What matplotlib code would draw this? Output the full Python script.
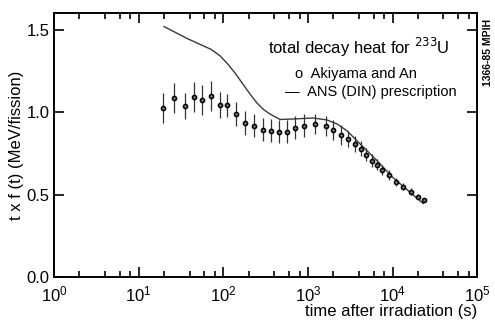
import matplotlib
matplotlib.use('Agg')
import matplotlib.pyplot as plt
import numpy as np
from matplotlib.ticker import FixedLocator, NullFormatter

plt.rcParams['font.family'] = ['Liberation Sans Narrow', 'Liberation Sans', 'DejaVu Sans']

# Akiyama and An measurements
t_meas = [19.4, 26.2, 35.3, 45.2, 56.1, 71.7, 91.6, 111, 142, 181, 231, 295, 367, 457,
          568, 706, 902, 1217, 1641, 1986, 2468, 2986, 3613, 4255, 4877, 5741, 6580,
          7537, 9120, 11040, 13350, 16590, 20080, 23640]
f_meas = [1.024, 1.084, 1.036, 1.090, 1.072, 1.096, 1.042, 1.042, 0.988, 0.934, 0.916,
          0.892, 0.886, 0.880, 0.880, 0.904, 0.916, 0.928, 0.916, 0.892, 0.861, 0.837,
          0.807, 0.777, 0.741, 0.705, 0.681, 0.651, 0.620, 0.578, 0.548, 0.518, 0.488, 0.470]
f_err = [0.09, 0.09, 0.08, 0.09, 0.09, 0.09, 0.08, 0.07, 0.07, 0.07, 0.07, 0.07, 0.07,
         0.07, 0.07, 0.07, 0.07, 0.06, 0.06, 0.06, 0.06, 0.05, 0.05, 0.045, 0.04, 0.04,
         0.035, 0.03, 0.03, 0.025, 0.02, 0.02, 0.015, 0.01]

# ANS (DIN) prescription curve
t_ans = [20.0, 37.3, 71.7, 92, 114, 140, 171, 208, 251, 300, 357, 469, 668, 1151, 1687,
         2213, 2905, 3816, 5012, 6580, 10160, 23000]
f_ans = [1.518, 1.446, 1.380, 1.340, 1.289, 1.232, 1.169, 1.108, 1.054, 1.015, 0.988,
         0.955, 0.958, 0.964, 0.952, 0.928, 0.886, 0.825, 0.765, 0.705, 0.602, 0.446]

fig = plt.figure(figsize=(4.95, 3.26), dpi=100)
ax = fig.add_axes([0.109, 0.150, 0.855, 0.810])

ax.plot(t_ans, f_ans, color='#3a3a3a', lw=1.0)
ax.errorbar(t_meas, f_meas, yerr=f_err, fmt='o', ms=3.0, mfc='#777777', mec='black',
            mew=1.1, ecolor='#333333', elinewidth=0.9, capsize=0)

ax.set_xscale('log')
ax.set_xlim(1, 1e5)
ax.set_ylim(0, 1.6)
ax.set_yticks([0.0, 0.5, 1.0, 1.5])
ax.set_yticklabels(['0.0', '0.5', '1.0', '1.5'])
ax.xaxis.set_minor_locator(FixedLocator([m * 10 ** d for d in range(5) for m in (2, 4, 6, 8)]))
ax.xaxis.set_minor_formatter(NullFormatter())
ax.tick_params(which='both', direction='in', top=True, right=True, labelsize=12, width=1.2)
ax.tick_params(which='major', length=7)
ax.tick_params(which='minor', length=4)
ax.tick_params(axis='x', pad=5)
ax.tick_params(axis='y', pad=3)
for s in ax.spines.values():
    s.set_linewidth(1.4)

ax.set_xlabel('time after irradiation (s)', fontsize=12, loc='right', labelpad=0)
ax.set_ylabel('t x f (t) (MeV/fission)', fontsize=12, labelpad=2)

ax.text(0.72, 0.87, 'total decay heat for $^{233}$U', transform=ax.transAxes,
        ha='center', va='center', fontsize=12)
ax.text(0.57, 0.77, 'o  Akiyama and An', transform=ax.transAxes, ha='left',
        va='center', fontsize=10.5)
ax.text(0.545, 0.70, '—  ANS (DIN) prescription', transform=ax.transAxes, ha='left',
        va='center', fontsize=10.5)
fig.text(0.985, 0.84, '1366-85 MPIH', rotation=90, ha='center', va='center', fontsize=7.5,
         fontweight='bold')

fig.savefig('out.png', dpi=100)
